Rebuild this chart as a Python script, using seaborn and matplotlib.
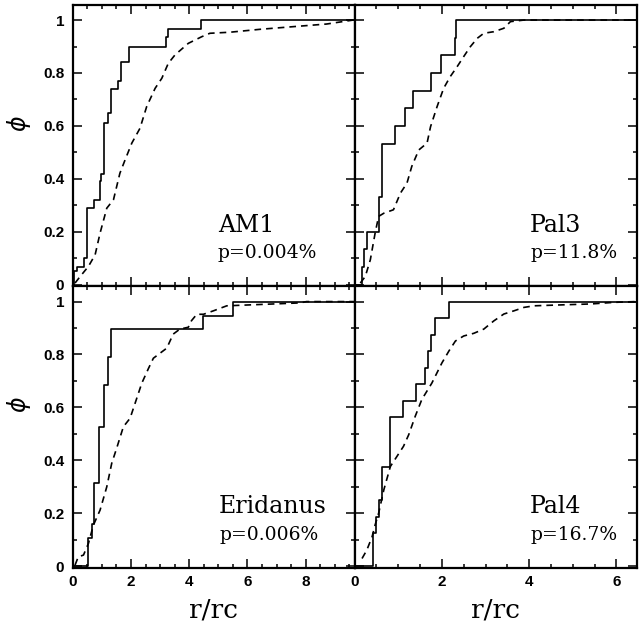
import numpy as np
import pandas as pd
import matplotlib
matplotlib.use("Agg")
import matplotlib.pyplot as plt
from matplotlib.ticker import MultipleLocator, FuncFormatter
import seaborn as sns

# panel names and KS probabilities
names = ["AM1", "Pal3", "Eridanus", "Pal4"]
pvals = ["p=0.004%", "p=11.8%", "p=0.006%", "p=16.7%"]
xmax = [9.68, 6.46, 9.68, 6.46]

# cumulative distribution of the stars (solid, step)
am1_step_x = [0, 0.05, 0.14, 0.39, 0.50, 0.74, 0.92, 0.97, 1.09, 1.20, 1.32, 1.54, 1.66, 1.95, 3.20, 3.28, 4.40, 9.68]
am1_step_y = [0, 0.05, 0.065, 0.10, 0.29, 0.32, 0.39, 0.42, 0.61, 0.65, 0.74, 0.77, 0.84, 0.90, 0.935, 0.968, 1.0, 1.0]
pal3_step_x = [0, 0.17, 0.22, 0.28, 0.57, 0.63, 0.92, 1.16, 1.34, 1.74, 1.98, 2.31, 2.33, 6.46]
pal3_step_y = [0, 0.067, 0.133, 0.20, 0.333, 0.533, 0.60, 0.667, 0.733, 0.80, 0.867, 0.933, 1.0, 1.0]
eri_step_x = [0, 0.54, 0.65, 0.74, 0.90, 1.09, 1.20, 1.32, 4.46, 5.51, 9.68]
eri_step_y = [0, 0.105, 0.158, 0.316, 0.526, 0.684, 0.789, 0.895, 0.947, 1.0, 1.0]
pal4_step_x = [0, 0.41, 0.49, 0.57, 0.63, 0.80, 0.82, 1.11, 1.41, 1.61, 1.68, 1.76, 1.85, 2.17, 6.46]
pal4_step_y = [0, 0.125, 0.1875, 0.25, 0.375, 0.50, 0.5625, 0.625, 0.6875, 0.75, 0.8125, 0.875, 0.9375, 1.0, 1.0]

# comparison distribution (dashed)
am1_cmp_x = [0.08, 0.25, 0.54, 0.77, 0.94, 1.17, 1.40, 1.62, 1.80, 2.03, 2.31, 2.54, 2.83, 3.06, 3.28, 3.51,
             3.97, 4.43, 4.71, 5.40, 6.43, 7.57, 8.72, 9.63]
am1_cmp_y = [0.006, 0.03, 0.069, 0.113, 0.195, 0.289, 0.321, 0.421, 0.472, 0.535, 0.591, 0.673, 0.742, 0.780,
             0.836, 0.868, 0.912, 0.937, 0.950, 0.954, 0.965, 0.975, 0.985, 1.0]
pal3_cmp_x = [0.13, 0.245, 0.36, 0.47, 0.55, 0.67, 0.89, 1.05, 1.20, 1.31, 1.47, 1.66, 1.74, 1.89, 2.04, 2.19,
              2.35, 2.50, 2.65, 2.81, 2.96, 3.19, 3.42, 3.57, 3.88, 6.40]
pal3_cmp_y = [0.006, 0.031, 0.094, 0.195, 0.258, 0.270, 0.283, 0.346, 0.384, 0.447, 0.509, 0.535, 0.597, 0.673,
              0.742, 0.786, 0.824, 0.862, 0.899, 0.931, 0.950, 0.956, 0.969, 0.994, 1.0, 1.0]
eri_cmp_x = [0.08, 0.19, 0.37, 0.54, 0.71, 0.94, 1.17, 1.34, 1.51, 1.74, 1.97, 2.14, 2.37, 2.60, 2.77, 3.00,
             3.23, 3.45, 3.68, 3.97, 4.08, 4.26, 4.49, 4.83, 5.29, 5.97, 6.89, 7.80, 8.03, 9.68]
eri_cmp_y = [0.004, 0.035, 0.042, 0.086, 0.155, 0.212, 0.300, 0.389, 0.446, 0.527, 0.559, 0.615, 0.691, 0.747,
             0.786, 0.805, 0.824, 0.877, 0.896, 0.903, 0.928, 0.952, 0.952, 0.965, 0.984, 0.987, 0.991, 0.995,
             1.0, 1.0]
pal4_cmp_x = [0.17, 0.28, 0.40, 0.47, 0.55, 0.67, 0.82, 0.97, 1.12, 1.24, 1.39, 1.54, 1.77, 2.00, 2.16, 2.31,
              2.50, 2.73, 2.96, 3.19, 3.42, 3.65, 3.88, 4.11, 4.64, 5.41, 5.94, 6.44]
pal4_cmp_y = [0.029, 0.061, 0.111, 0.156, 0.200, 0.289, 0.377, 0.415, 0.453, 0.497, 0.567, 0.630, 0.692, 0.768,
              0.813, 0.851, 0.870, 0.880, 0.896, 0.927, 0.953, 0.965, 0.978, 0.984, 0.987, 0.991, 0.997, 1.0]

steps = [(am1_step_x, am1_step_y), (pal3_step_x, pal3_step_y), (eri_step_x, eri_step_y), (pal4_step_x, pal4_step_y)]
cmps = [(am1_cmp_x, am1_cmp_y), (pal3_cmp_x, pal3_cmp_y), (eri_cmp_x, eri_cmp_y), (pal4_cmp_x, pal4_cmp_y)]

# where the labels go (axes fraction)
label_x = [0.515, 0.623, 0.519, 0.623]

sns.set_style("ticks")
plt.rcParams["font.family"] = ["Liberation Sans", "DejaVu Sans"]
plt.rcParams["text.color"] = "black"
plt.rcParams["axes.labelcolor"] = "black"
plt.rcParams["xtick.color"] = "black"
plt.rcParams["ytick.color"] = "black"

fig, axes = plt.subplots(2, 2, figsize=(6.44, 6.21), dpi=100)
fig.subplots_adjust(left=0.1129, right=0.9884, top=0.992, bottom=0.0853, wspace=0, hspace=0)

for i, ax in enumerate(axes.flat):
    sx, sy = steps[i]
    cx, cy = cmps[i]
    df_s = pd.DataFrame({"x": sx, "y": sy})
    df_c = pd.DataFrame({"x": cx, "y": cy})
    sns.lineplot(data=df_s, x="x", y="y", ax=ax, color="black", lw=1.2,
                 drawstyle="steps-post", estimator=None, sort=False)
    sns.lineplot(data=df_c, x="x", y="y", ax=ax, color="black", lw=1.2,
                 linestyle=(0, (4, 3)), estimator=None, sort=False)

    ax.set_xlim(0, xmax[i])
    ax.set_ylim(-0.007, 1.057)
    ax.xaxis.set_major_locator(MultipleLocator(2))
    ax.xaxis.set_minor_locator(MultipleLocator(0.5))
    ax.yaxis.set_major_locator(MultipleLocator(0.2))
    ax.yaxis.set_minor_locator(MultipleLocator(0.1))
    ax.yaxis.set_major_formatter(FuncFormatter(lambda v, p: f"{v:g}"))
    ax.xaxis.set_major_formatter(FuncFormatter(lambda v, p: f"{v:g}"))
    ax.tick_params(which="both", direction="in", top=True, right=True, width=1.1, color="black",
                   labelcolor="black")
    ax.tick_params(which="major", length=6.5)
    ax.tick_params(which="minor", length=3.2)
    ax.tick_params(axis="y", pad=6)
    ax.tick_params(axis="x", pad=5)
    for lab in ax.get_xticklabels() + ax.get_yticklabels():
        lab.set_fontsize(11)
        lab.set_fontweight("bold")
    for sp in ax.spines.values():
        sp.set_linewidth(1.6)
        sp.set_color("black")

    row, col = divmod(i, 2)
    if col == 1:
        ax.set_yticklabels([])
        ax.set_ylabel("")
    else:
        ax.set_ylabel(r"$\phi$", fontsize=17, rotation=90, va="center")
        ax.yaxis.set_label_coords(-0.19, 0.58)
    if row == 0:
        ax.set_xticklabels([])
        ax.set_xlabel("")
    else:
        ax.set_xlabel("r/rc", fontsize=19, family="DejaVu Serif", labelpad=6)

    ax.text(label_x[i], 0.194, names[i], transform=ax.transAxes, fontsize=17,
            family="DejaVu Serif", va="baseline", ha="left")
    ax.text(label_x[i], 0.101, pvals[i], transform=ax.transAxes, fontsize=13.5,
            family="DejaVu Serif", va="baseline", ha="left")

fig.savefig("out.png", dpi=100)
